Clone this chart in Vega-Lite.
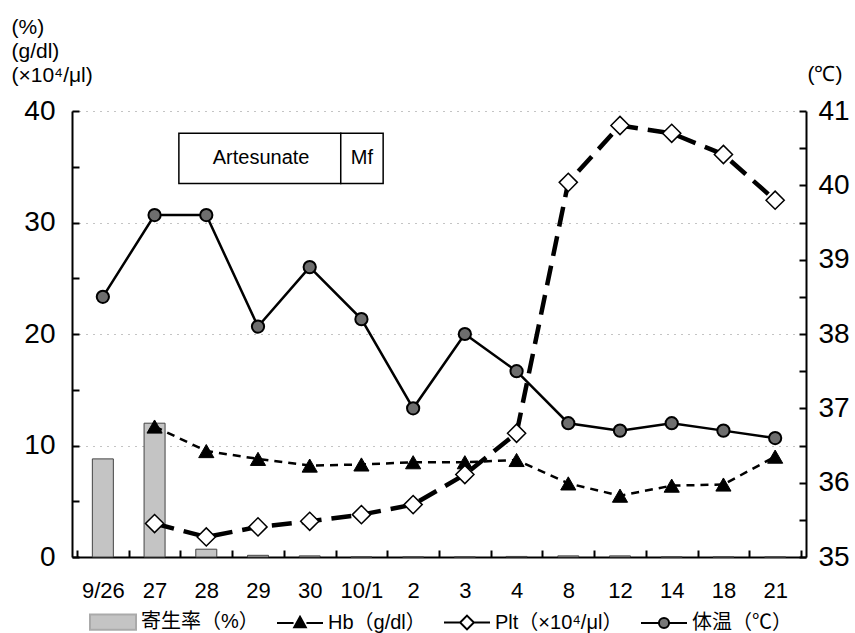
{
  "$schema": "https://vega.github.io/schema/vega-lite/v6.json",
  "width": 734,
  "height": 446,
  "autosize": {"type": "none"},
  "padding": {"left": 72, "top": 111, "right": 49, "bottom": 76},
  "background": "white",
  "config": {
    "view": {"stroke": null},
    "font": "Liberation Sans",
    "axis": {
      "domainColor": "#000",
      "domainWidth": 2,
      "tickColor": "#000",
      "tickWidth": 2,
      "labelColor": "#000",
      "titleColor": "#000",
      "labelFont": "Liberation Sans",
      "titleFont": "Liberation Sans",
      "titleFontWeight": "normal"
    }
  },
  "datasets": {
    "main": [
      {"i": 0, "date": "9/26", "para": 8.8, "hb": null, "plt": null, "temp": 38.5},
      {"i": 1, "date": "27", "para": 12.0, "hb": 11.7, "plt": 3.0, "temp": 39.6},
      {"i": 2, "date": "28", "para": 0.7, "hb": 9.5, "plt": 1.8, "temp": 39.6},
      {"i": 3, "date": "29", "para": 0.15, "hb": 8.8, "plt": 2.7, "temp": 38.1},
      {"i": 4, "date": "30", "para": 0.1, "hb": 8.2, "plt": 3.2, "temp": 38.9},
      {"i": 5, "date": "10/1", "para": 0, "hb": 8.3, "plt": 3.8, "temp": 38.2},
      {"i": 6, "date": "2", "para": 0, "hb": 8.5, "plt": 4.7, "temp": 37.0},
      {"i": 7, "date": "3", "para": 0, "hb": 8.5, "plt": 7.4, "temp": 38.0},
      {"i": 8, "date": "4", "para": 0.05, "hb": 8.7, "plt": 11.1, "temp": 37.5},
      {"i": 9, "date": "8", "para": 0.1, "hb": 6.6, "plt": 33.6, "temp": 36.8},
      {"i": 10, "date": "12", "para": 0.1, "hb": 5.5, "plt": 38.7, "temp": 36.7},
      {"i": 11, "date": "14", "para": 0, "hb": 6.4, "plt": 38.0, "temp": 36.8},
      {"i": 12, "date": "18", "para": 0, "hb": 6.5, "plt": 36.1, "temp": 36.7},
      {"i": 13, "date": "21", "para": 0, "hb": 9.0, "plt": 32.0, "temp": 36.6}
    ],
    "box": [
      {"start": 1.47, "end": 4.6, "mid": 3.06, "label": "Artesunate"},
      {"start": 4.6, "end": 5.42, "mid": 5.01, "label": "Mf"}
    ],
    "legend": [
      {"series": "寄生率（%）"},
      {"series": "Hb（g/dl）"},
      {"series": "Plt（×10⁴/μl）"},
      {"series": "体温（℃）"}
    ]
  },
  "encoding": {
    "x": {
      "field": "i",
      "type": "quantitative",
      "scale": {"domain": [-0.5, 13.5], "nice": false, "zero": false},
      "axis": {
        "title": null,
        "values": [-0.5, 0, 0.5, 1, 1.5, 2, 2.5, 3, 3.5, 4, 4.5, 5, 5.5, 6, 6.5, 7, 7.5, 8, 8.5, 9, 9.5, 10, 10.5, 11, 11.5, 12, 12.5, 13, 13.5],
        "labelExpr": "datum.value % 1 === 0 ? ['9/26','27','28','29','30','10/1','2','3','4','8','12','14','18','21'][datum.value] : ''",
        "labelFontSize": 22,
        "labelPadding": 30,
        "labelFlush": false,
        "labelOverlap": false,
        "tickSize": -7,
        "tickOpacity": {"condition": {"test": "datum.value % 1 !== 0", "value": 1}, "value": 0},
        "grid": false
      }
    }
  },
  "layer": [
    {
      "layer": [
        {
          "data": {"name": "main"},
          "mark": {"type": "bar", "width": 21, "fill": "#c4c4c4", "stroke": "#444", "strokeWidth": 1},
          "encoding": {
            "y": {
              "field": "para",
              "type": "quantitative",
              "scale": {"domain": [0, 40], "nice": false},
              "axis": {
                "orient": "left",
                "values": [0, 5, 10, 15, 20, 25, 30, 35, 40],
                "labelExpr": "datum.value % 10 === 0 ? datum.label : ''",
                "labelFontSize": 28,
                "labelPadding": 24,
                "tickSize": -7,
                "grid": true,
                "gridDash": [1, 6],
                "gridColor": "#888",
                "gridWidth": 1,
                "gridOpacity": {"condition": {"test": "datum.value % 10 === 0 && datum.value > 0", "value": 1}, "value": 0},
                "title": ["(%)", "(g/dl)", "(×10⁴/μl)"],
                "titleAngle": 0,
                "titleAlign": "left",
                "titleBaseline": "top",
                "titleX": -61,
                "titleY": -95,
                "titleFontSize": 21,
                "titleLineHeight": 24
              }
            }
          }
        },
        {
          "data": {"name": "main"},
          "mark": {"type": "line", "stroke": "#000", "strokeWidth": 2.5, "strokeDash": [8, 6]},
          "encoding": {"y": {"field": "hb", "type": "quantitative", "scale": {"domain": [0, 40], "nice": false}}}
        },
        {
          "data": {"name": "main"},
          "mark": {"type": "line", "stroke": "#000", "strokeWidth": 4.5, "strokeDash": [20, 10]},
          "encoding": {"y": {"field": "plt", "type": "quantitative", "scale": {"domain": [0, 40], "nice": false}}}
        },
        {
          "data": {"name": "main"},
          "mark": {"type": "point", "shape": "triangle-up", "size": 230, "filled": true, "fill": "#000", "stroke": "#000", "strokeWidth": 1, "opacity": 1},
          "encoding": {"y": {"field": "hb", "type": "quantitative", "scale": {"domain": [0, 40], "nice": false}}}
        },
        {
          "data": {"name": "main"},
          "mark": {"type": "point", "shape": "diamond", "size": 330, "filled": true, "fill": "#fff", "stroke": "#000", "strokeWidth": 1.5, "opacity": 1},
          "encoding": {"y": {"field": "plt", "type": "quantitative", "scale": {"domain": [0, 40], "nice": false}}}
        },
        {
          "data": {"name": "box"},
          "mark": {"type": "rect", "fill": "#fff", "stroke": "#000", "strokeWidth": 1.5},
          "encoding": {
            "x": {"field": "start", "type": "quantitative"},
            "x2": {"field": "end"},
            "y": {"datum": 38.0, "type": "quantitative", "scale": {"domain": [0, 40], "nice": false}},
            "y2": {"datum": 33.5}
          }
        },
        {
          "data": {"name": "box"},
          "mark": {"type": "text", "fontSize": 20, "align": "center", "baseline": "middle", "color": "#000"},
          "encoding": {
            "x": {"field": "mid", "type": "quantitative"},
            "y": {"datum": 35.75, "type": "quantitative", "scale": {"domain": [0, 40], "nice": false}},
            "text": {"field": "label"}
          }
        },
        {
          "data": {"name": "legend"},
          "mark": {"type": "point", "opacity": 0, "filled": true, "size": 10},
          "encoding": {
            "x": {"datum": 0, "type": "quantitative"},
            "y": {"datum": 0, "type": "quantitative", "scale": {"domain": [0, 40], "nice": false}},
            "shape": {
              "field": "series",
              "type": "nominal",
              "scale": {
                "domain": ["寄生率（%）", "Hb（g/dl）", "Plt（×10⁴/μl）", "体温（℃）"],
                "range": [
                  "M-1,-0.33H1V0.33H-1Z",
                  "M-1,0H-0.28M0.28,0H1M0,-0.27L0.25,0.18L-0.25,0.18Z",
                  "M-1,0H-0.3M0.3,0H1M0,-0.3L0.3,0L0,0.3L-0.3,0Z",
                  "M-1,0H-0.25M0.25,0H1M0.22,0A0.22,0.22 0 1,1 -0.22,0A0.22,0.22 0 1,1 0.22,0Z"
                ]
              },
              "legend": {
                "title": null,
                "orient": "none",
                "legendX": 17,
                "legendY": 487,
                "direction": "horizontal",
                "columns": 4,
                "symbolSize": 2116,
                "symbolOpacity": 1,
                "symbolStrokeWidth": 2,
                "labelFont": "Liberation Sans, Noto Sans CJK JP",
                "labelFontSize": 20,
                "labelColor": "#000",
                "labelOffset": 4,
                "columnPadding": 14,
                "labelLimit": 300
              }
            },
            "fill": {
              "field": "series",
              "type": "nominal",
              "scale": {
                "domain": ["寄生率（%）", "Hb（g/dl）", "Plt（×10⁴/μl）", "体温（℃）"],
                "range": ["#c4c4c4", "#000", "#fff", "#777"]
              }
            },
            "stroke": {
              "field": "series",
              "type": "nominal",
              "scale": {
                "domain": ["寄生率（%）", "Hb（g/dl）", "Plt（×10⁴/μl）", "体温（℃）"],
                "range": ["#aaa", "#000", "#000", "#000"]
              }
            }
          }
        }
      ]
    },
    {
      "data": {"name": "main"},
      "encoding": {
        "y": {
          "field": "temp",
          "type": "quantitative",
          "scale": {"domain": [35, 41], "nice": false, "zero": false},
          "axis": {
            "orient": "right",
            "values": [35, 35.5, 36, 36.5, 37, 37.5, 38, 38.5, 39, 39.5, 40, 40.5, 41],
            "labelExpr": "datum.value % 1 === 0 ? format(datum.value, 'd') : ''",
            "labelFontSize": 28,
            "labelPadding": 19,
            "tickSize": -7,
            "grid": false,
            "title": "(℃)",
            "titleAngle": 0,
            "titleAlign": "left",
            "titleBaseline": "top",
            "titleX": 1,
            "titleY": -48,
            "titleFontSize": 21
          }
        }
      },
      "layer": [
        {"mark": {"type": "line", "stroke": "#000", "strokeWidth": 2.5}},
        {"mark": {"type": "point", "shape": "circle", "size": 150, "filled": true, "fill": "#6e6e6e", "stroke": "#000", "strokeWidth": 2, "opacity": 1}}
      ]
    }
  ],
  "resolve": {"scale": {"y": "independent", "shape": "independent", "fill": "independent", "stroke": "independent"}}
}
